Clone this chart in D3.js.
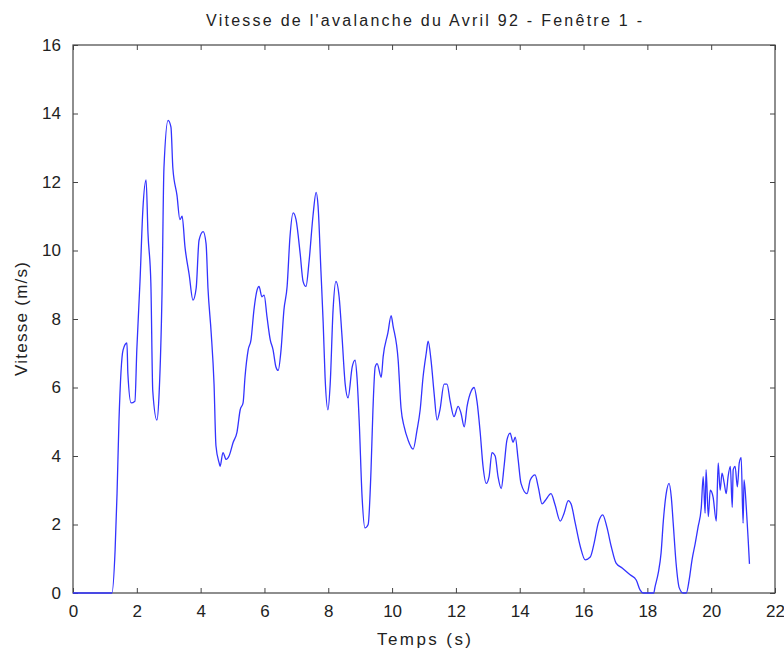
<!DOCTYPE html>
<html>
<head>
<meta charset="utf-8">
<script src="https://cdn.jsdelivr.net/npm/d3@7"></script>
<style>
  html, body { margin: 0; padding: 0; background: #fff; }
  svg { display: block; }
  text { font-family: "Liberation Sans", Arial, sans-serif; fill: #222; }
</style>
</head>
<body>
<div id="chart"></div>
<script>
// Avalanche front speed, window 1 (time in s, speed in m/s)
const timeS = [
  0, 1.22, 1.32, 1.38, 1.44, 1.57, 1.69, 1.72, 1.82, 1.94, 2.0, 2.1, 2.19, 2.29, 2.35, 2.44,
  2.5, 2.63, 2.7, 2.79, 2.85, 2.98, 3.07, 3.13, 3.26, 3.35, 3.42, 3.51, 3.64, 3.76, 3.86, 3.95,
  4.08, 4.17, 4.23, 4.33, 4.42, 4.48, 4.58, 4.61, 4.7, 4.8, 4.89, 5.02, 5.14, 5.24, 5.33, 5.39,
  5.49, 5.58, 5.67, 5.77, 5.83, 5.92, 5.99, 6.08, 6.18, 6.27, 6.36, 6.43, 6.52, 6.61, 6.71, 6.8,
  6.9, 6.99, 7.12, 7.21, 7.3, 7.4, 7.52, 7.62, 7.68, 7.77, 7.84, 7.9, 7.99, 8.06, 8.15, 8.24,
  8.34, 8.43, 8.53, 8.62, 8.75, 8.84, 8.9, 8.97, 9.06, 9.15, 9.25, 9.34, 9.4, 9.47, 9.53, 9.66,
  9.72, 9.87, 9.97, 10.03, 10.19, 10.28, 10.38, 10.5, 10.66, 10.78, 10.88, 10.97, 11.07, 11.13,
  11.22, 11.32, 11.41, 11.5, 11.63, 11.72, 11.82, 11.94, 12.07, 12.16, 12.26, 12.35, 12.48, 12.57,
  12.66, 12.76, 12.85, 12.95, 13.04, 13.13, 13.23, 13.32, 13.42, 13.51, 13.6, 13.7, 13.79, 13.86,
  13.95, 14.04, 14.23, 14.33, 14.48, 14.58, 14.7, 14.8, 14.98, 15.1, 15.27, 15.39, 15.52, 15.61,
  15.74, 15.9, 16.05, 16.21, 16.33, 16.46, 16.6, 16.73, 16.87, 17.02, 17.21, 17.46, 17.65, 17.77,
  17.87, 18.2, 18.24, 18.34, 18.43, 18.5, 18.59, 18.68, 18.75, 18.81, 18.9, 19.0, 19.12, 19.22,
  19.31, 19.4, 19.5, 19.59, 19.69, 19.75, 19.81, 19.84, 19.91, 19.97, 20.06, 20.16, 20.22, 20.28,
  20.34, 20.41, 20.47, 20.53, 20.6, 20.66, 20.69, 20.75, 20.82, 20.88, 20.94, 21.0, 21.03, 21.1,
  21.16, 21.2
];
const speed = [
  0, 0, 1.26, 2.9, 5.0, 7.1, 7.3, 6.4, 5.55, 5.6, 7.1, 9.1, 11.2, 12.06, 10.5, 9.05,
  5.9, 5.05, 5.85, 8.76, 12.4, 13.8, 13.6, 12.4, 11.6, 10.9, 11.0, 10.1, 9.3, 8.55, 8.9, 10.3,
  10.55, 10.2, 8.9, 7.6, 6.1, 4.3, 3.8, 3.7, 4.1, 3.9, 4.0, 4.4, 4.7, 5.35, 5.55, 6.3,
  7.1, 7.4, 8.26, 8.85, 8.95, 8.65, 8.7, 8.06, 7.4, 7.1, 6.6, 6.5, 7.1, 8.26, 8.95, 10.4,
  11.1, 10.9, 9.9, 9.1, 8.95, 9.7, 11.0, 11.7, 11.3, 9.4, 7.9, 6.3, 5.35, 6.1, 8.26, 9.1,
  8.65, 7.5, 6.1, 5.7, 6.6, 6.8, 6.3, 5.0, 2.8, 1.9, 2.0, 3.6, 5.35, 6.6, 6.7, 6.3,
  6.9, 7.6, 8.1, 7.8, 6.8, 5.4, 4.85, 4.47, 4.2, 4.75, 5.35, 6.3, 7.0, 7.35,
  6.8, 5.8, 5.05, 5.35, 6.1, 6.1, 5.6, 5.15, 5.45, 5.25, 4.85, 5.45, 5.9, 6.0,
  5.6, 4.7, 3.7, 3.2, 3.4, 4.1, 4.0, 3.4, 3.05, 3.7, 4.47, 4.67, 4.4, 4.55,
  3.9, 3.2, 2.9, 3.3, 3.45, 3.1, 2.6, 2.7, 2.9, 2.6, 2.1, 2.33, 2.7, 2.6,
  2.04, 1.35, 0.97, 1.05, 1.45, 2.04, 2.28, 1.93, 1.35, 0.87, 0.73, 0.53, 0.38, 0.09,
  0, 0, 0.18, 0.58, 1.17, 2.1, 2.9, 3.2, 2.8, 2.04, 0.87, 0.15, 0, 0,
  0.38, 0.97, 1.45, 1.93, 2.5, 3.4, 2.33, 3.6, 2.23, 3.0, 2.8, 2.1, 3.8, 3.0,
  3.5, 3.2, 2.9, 3.4, 3.7, 2.5, 3.6, 3.7, 3.1, 3.8, 3.95, 2.04, 3.3, 2.5,
  1.55, 0.85
];
const xTicks = [0, 2, 4, 6, 8, 10, 12, 14, 16, 18, 20, 22];
const yTicks = [0, 2, 4, 6, 8, 10, 12, 14, 16];
const titleText = "Vitesse de l'avalanche du Avril 92 - Fenêtre 1 -";
const xLabel = "Temps (s)";
const yLabel = "Vitesse (m/s)";

const W = 784, H = 655;
const margin = { left: 73, right: 9, top: 45, bottom: 62 };
const iw = W - margin.left - margin.right;
const ih = H - margin.top - margin.bottom;

const svg = d3.select("#chart").append("svg")
  .attr("width", W).attr("height", H);

const g = svg.append("g")
  .attr("transform", `translate(${margin.left},${margin.top})`);

const x = d3.scaleLinear().domain([0, 22]).range([0, iw]);
const y = d3.scaleLinear().domain([0, 16]).range([ih, 0]);

const tickLen = 5;
const fontSize = 17;

// Bottom and left axes with inward ticks, plus mirrored top/right ticks
function styleAxis(sel) {
  sel.select(".domain").remove();
  sel.selectAll("line").attr("stroke", "#444").attr("stroke-width", 1);
  sel.selectAll("text")
    .style("font-family", "'Liberation Sans', Arial, sans-serif")
    .style("font-size", fontSize + "px")
    .attr("fill", "#333");
}

g.append("g")
  .attr("transform", `translate(0,${ih})`)
  .call(d3.axisBottom(x).tickValues(xTicks).tickFormat(d3.format("d"))
    .tickSizeInner(-tickLen).tickSizeOuter(0).tickPadding(12))
  .call(styleAxis);

g.append("g")
  .call(d3.axisLeft(y).tickValues(yTicks).tickFormat(d3.format("d"))
    .tickSizeInner(-tickLen).tickSizeOuter(0).tickPadding(12))
  .call(styleAxis);

g.append("g")
  .call(d3.axisTop(x).tickValues(xTicks).tickFormat("")
    .tickSizeInner(-tickLen).tickSizeOuter(0))
  .call(styleAxis);

g.append("g")
  .attr("transform", `translate(${iw},0)`)
  .call(d3.axisRight(y).tickValues(yTicks).tickFormat("")
    .tickSizeInner(-tickLen).tickSizeOuter(0))
  .call(styleAxis);

// Frame
g.append("rect")
  .attr("x", 0).attr("y", 0).attr("width", iw).attr("height", ih)
  .attr("fill", "none").attr("stroke", "#444").attr("stroke-width", 1.2);

// Speed curve
const pts = timeS.map((t, i) => [t, speed[i]]);
const line = d3.line().x(d => x(d[0])).y(d => y(d[1])).curve(d3.curveMonotoneX);
g.append("path")
  .datum(pts)
  .attr("d", line)
  .attr("fill", "none")
  .attr("stroke", "#3333ff")
  .attr("stroke-width", 1.3)
  .attr("stroke-linejoin", "round");

// Title and axis labels
svg.append("text")
  .attr("x", margin.left + iw / 2).attr("y", 26)
  .attr("text-anchor", "middle")
  .attr("textLength", 436).attr("lengthAdjust", "spacing")
  .style("font-size", "16px")
  .attr("fill", "#333")
  .text(titleText);

svg.append("text")
  .attr("x", margin.left + iw / 2).attr("y", 645)
  .attr("text-anchor", "middle")
  .attr("textLength", 94).attr("lengthAdjust", "spacing")
  .style("font-size", fontSize + "px")
  .attr("fill", "#333")
  .text(xLabel);

svg.append("text")
  .attr("transform", `translate(27,${margin.top + ih / 2}) rotate(-90)`)
  .attr("text-anchor", "middle")
  .attr("textLength", 114).attr("lengthAdjust", "spacing")
  .style("font-size", fontSize + "px")
  .attr("fill", "#333")
  .text(yLabel);
</script>
</body>
</html>
